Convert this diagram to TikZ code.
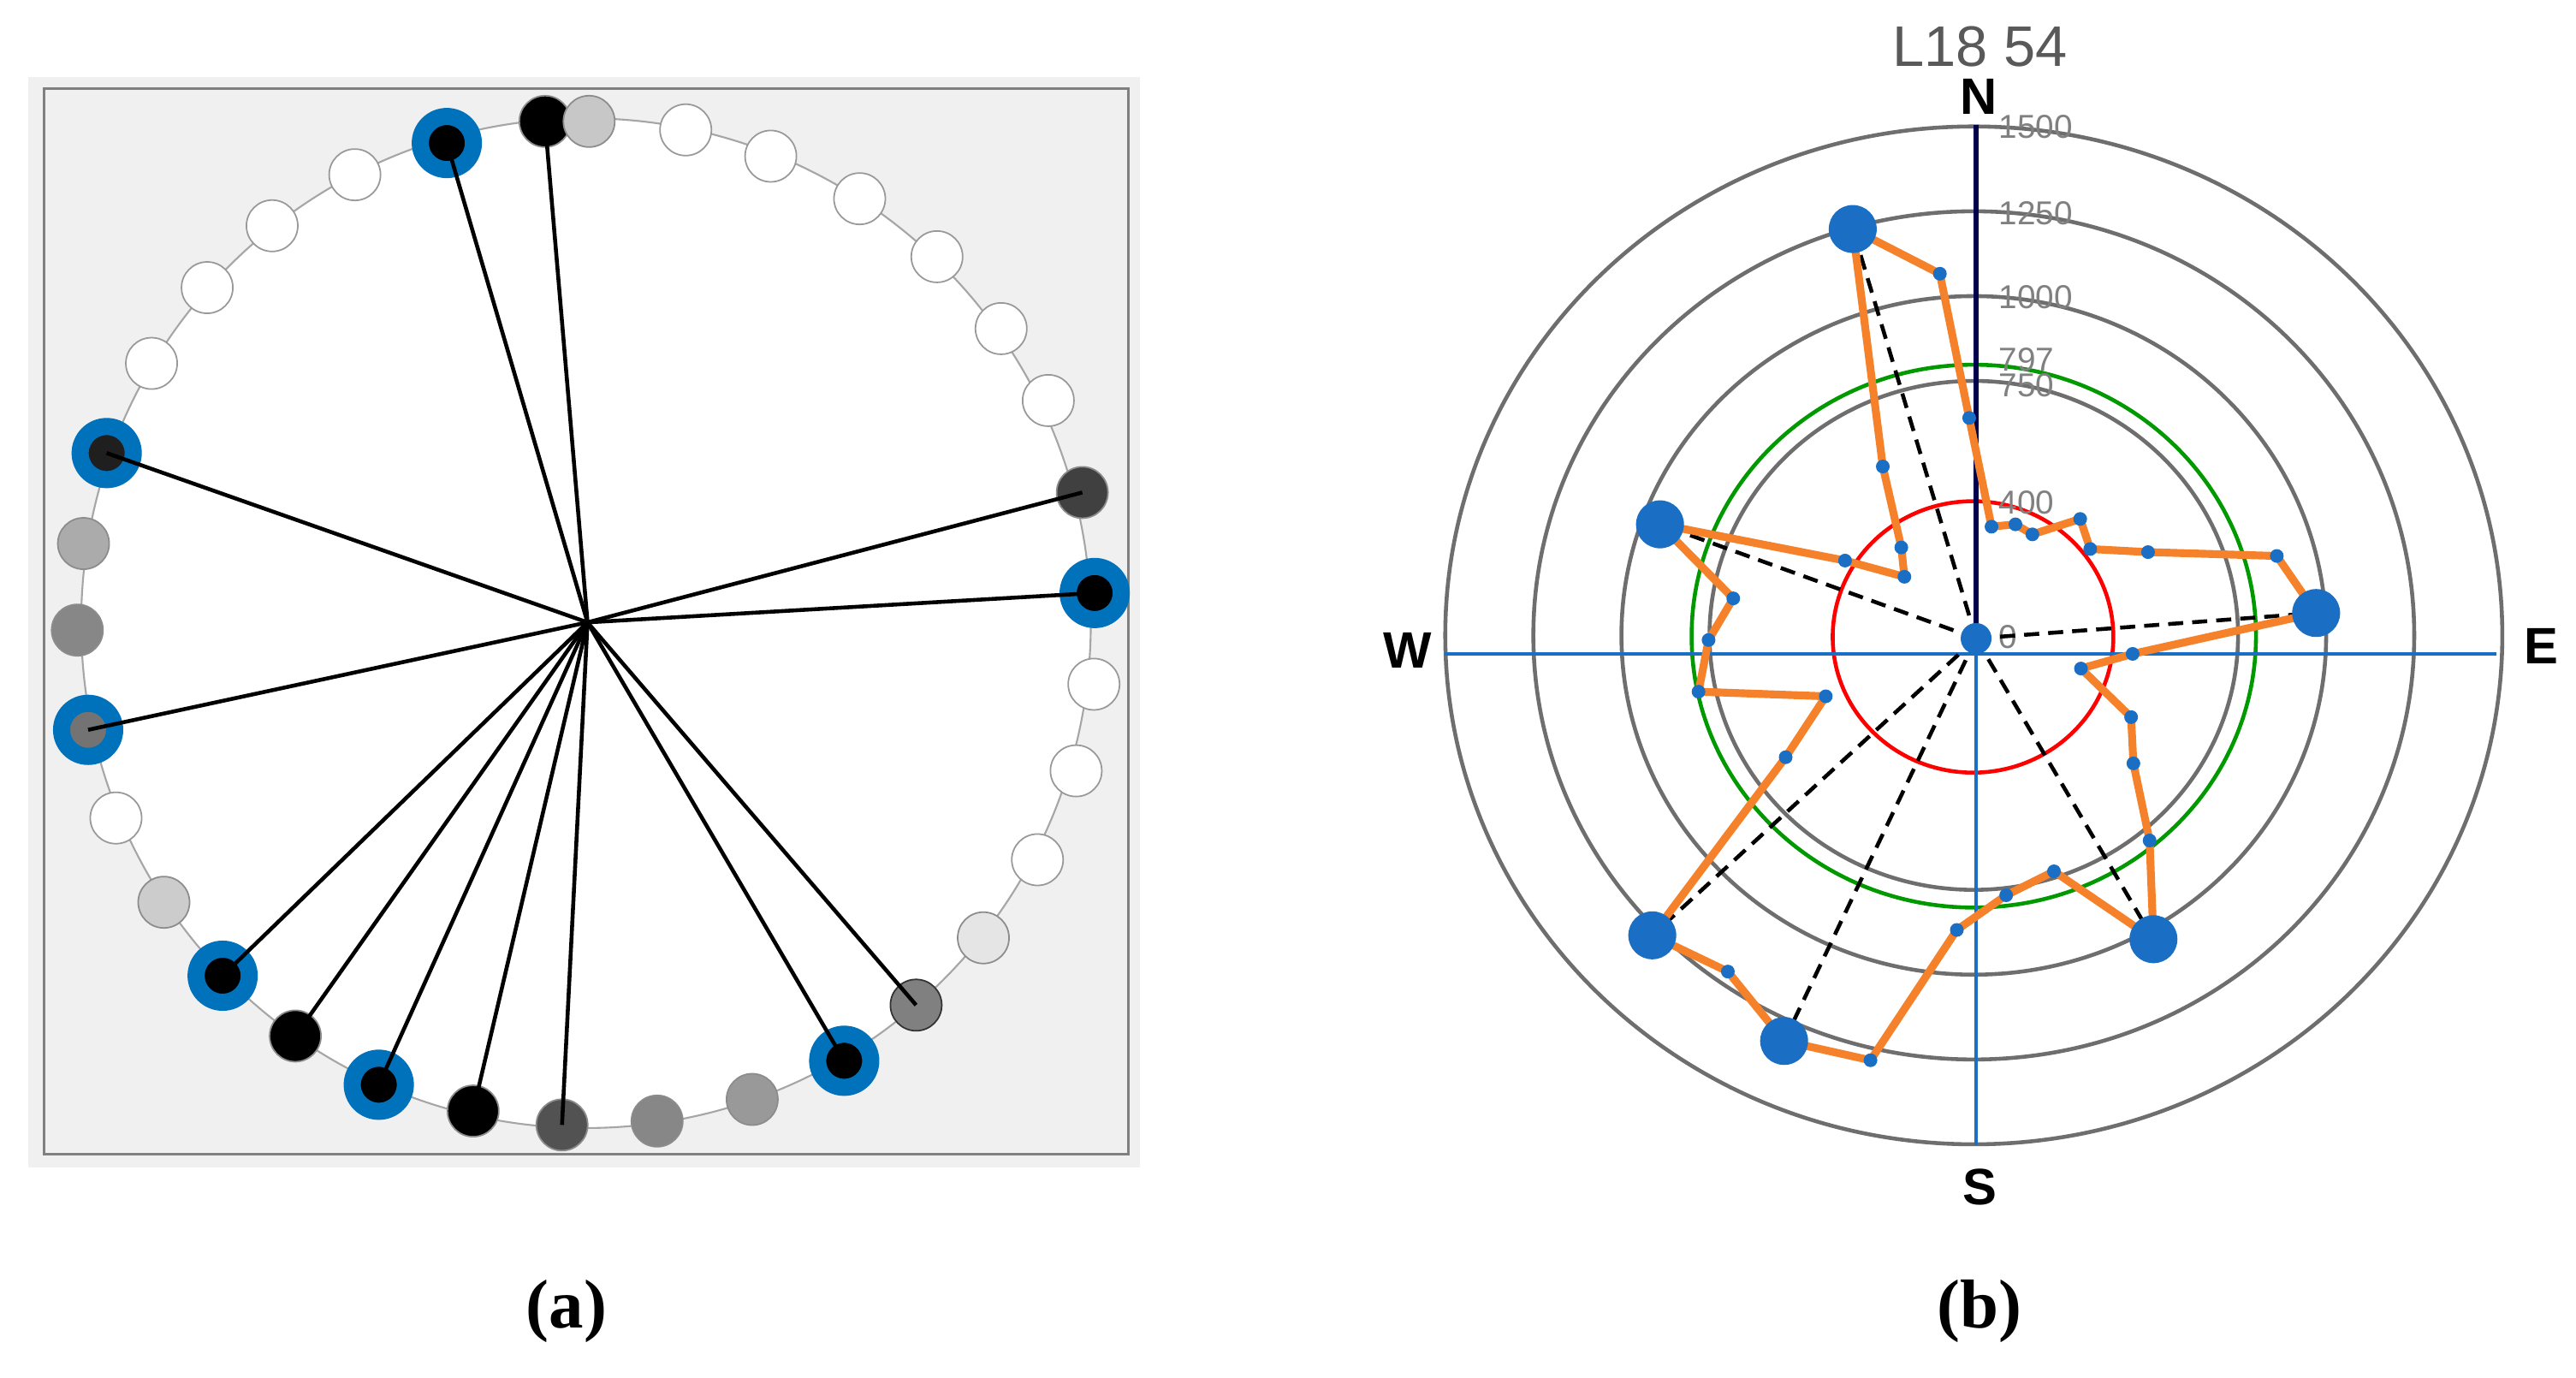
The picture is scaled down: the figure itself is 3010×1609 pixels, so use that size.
\documentclass[tikz,border=0pt]{standalone}
\usepackage{fontspec}
\setmainfont{Liberation Serif}
\newfontfamily\chartfont{Liberation Sans}
\begin{document}
\begin{tikzpicture}[x=0.01cm,y=-0.01cm,
  nd/.style={circle,inner sep=0pt,minimum size=0.6cm,draw=#1},
  wn/.style={nd=gray!80,fill=white,line width=0.5pt},
  gn/.style={nd=gray!90,fill=#1,line width=0.5pt},
  bn/.style={circle,inner sep=0pt,minimum size=0.62cm,fill=black,draw={rgb,255:red,0;green,114;blue,188},line width=0.2cm},
  spoke/.style={line width=1.3pt,black},
  ring/.style={draw={rgb,255:red,110;green,110;blue,110},line width=1.3pt},
  sdot/.style={circle,inner sep=0pt,minimum size=0.16cm,fill=cblue},
  bdot/.style={circle,inner sep=0pt,minimum size=0.56cm,fill=cblue},
  tick/.style={font=\chartfont\fontsize{11}{11}\selectfont,text=gray,anchor=west,inner sep=1pt},
  dir/.style={font=\chartfont\bfseries\fontsize{17}{17}\selectfont}]
\definecolor{cblue}{RGB}{26,111,196}
\definecolor{corange}{RGB}{245,130,42}
\useasboundingbox (0,0) rectangle (3010,1609);
\fill[white] (0,0) rectangle (3010,1609);
% ---------------- panel (a)
\begin{scope}[scale=0.9033]
\fill[black!6] (36,100) rectangle (1475,1510);
\draw[gray,line width=0.8pt] (57,115) rectangle (1460,1493);
\fill[white] (758,806) circle[radius=653];
\draw[gray!70,line width=0.6pt] (758,806) circle[radius=653];
\coordinate (c) at (760,805);
\node[gn=black] (a1) at (705,157) {};
\node[gn=black!22] (a2) at (762,157) {};
\node[wn] (a3) at (887,168) {};
\node[wn] (a4) at (997,202) {};
\node[wn] (a5) at (1112,257) {};
\node[wn] (a6) at (1212,332) {};
\node[wn] (a7) at (1295,425) {};
\node[wn] (a8) at (1356,518) {};
\node[gn=black!75] (a9) at (1400,637) {};
\node[bn] (a10) at (1416,767) {};
\node[wn] (a11) at (1415,885) {};
\node[wn] (a12) at (1392,997) {};
\node[wn] (a13) at (1342,1112) {};
\node[gn=black!10] (a14) at (1272,1213) {};
\node[gn=black!50,draw=black!80] (a15) at (1185,1300) {};
\node[bn] (a16) at (1092,1372) {};
\node[gn=black!40] (a17) at (973,1422) {};
\node[gn=black!47] (a18) at (850,1450) {};
\node[gn=black!68] (a19) at (727,1455) {};
\node[gn=black] (a20) at (612,1437) {};
\node[bn] (a21) at (490,1403) {};
\node[gn=black] (a22) at (382,1340) {};
\node[bn] (a23) at (288,1262) {};
\node[gn=black!20] (a24) at (212,1167) {};
\node[wn] (a25) at (150,1058) {};
\node[bn,fill=black!55] (a26) at (114,944) {};
\node[gn=black!47] (a27) at (100,815) {};
\node[gn=black!33] (a28) at (108,703) {};
\node[bn,fill=black!88] (a29) at (138,586) {};
\node[wn] (a30) at (196,470) {};
\node[wn] (a31) at (268,372) {};
\node[wn] (a32) at (352,292) {};
\node[wn] (a33) at (459,226) {};
\node[bn] (a34) at (578,185) {};
\foreach \n in {1,34,29,9,10,26,23,22,21,20,19,16,15}
  \draw[spoke] (c) -- (a\n.center);
\end{scope}
\node[font=\bfseries\fontsize{23}{26}\selectfont] (la) at (662,1532) {(a)};
% ---------------- panel (b)
\begin{scope}[shift={(1600,0)},scale=0.9009]
\coordinate (o) at (784,824);
\foreach \v in {750,1000,1250,1500}
  \draw[ring] (o) ellipse[x radius=0.457*\v, y radius=0.44*\v];
\draw[red,line width=1.3pt] (783,826) ellipse[x radius=182, y radius=176];
\draw[green!60!black,line width=1.3pt] (784,825) ellipse[x radius=366, y radius=352];
\coordinate (wl) at (98,848); \coordinate (er) at (1462,848);
\coordinate (nt) at (787,162); \coordinate (sb) at (787,1485); \coordinate (ct) at (787,828);
\draw[cblue,line width=1.4pt] (wl) -- (er);
\draw[cblue,line width=0.9pt] (ct) -- (sb);
\draw[black!70!blue,line width=1.6pt] (nt) -- (ct);
\node[tick] (t1500) at (812,165) {1500};
\node[tick] (t1250) at (812,277) {1250};
\node[tick] (t1000) at (812,385) {1000};
\node[tick] (t797) at (812,466) {797};
\node[tick] (t750) at (812,500) {750};
\node[tick] (t400) at (812,652) {400};
\node[tick] (t0) at (812,826) {0};
\node[dir] (N) at (790,125) {N};
\node[dir] (W) at (50,843) {W};
\node[dir] (E) at (1520,838) {E};
\node[dir] (S) at (792,1540) {S};
\node[font=\chartfont\fontsize{19}{19}\selectfont,text=black!65] (tt) at (792,60) {L18 54};
\foreach \i/\x/\y in {1/627/297,2/740/355,3/778/542,4/807/683,5/838/680,6/860/693,7/922/673,8/935/712,9/1010/716,10/1177/721,11/1228/795,12/990/848,13/923/867,14/988/930,15/991/990,16/1012/1090,17/1017/1218,18/888/1130,19/826/1161,20/762/1206,21/650/1375,22/538/1350,23/465/1260,24/367/1213,25/540/982,26/592/903,27/427/897,28/440/830,29/472/776,30/377/680,31/617/727,32/694/748,33/690/710,34/666/605}
  \coordinate (p\i) at (\x,\y);
\foreach \b in {1,30,24,22,17,11}
  \draw[black,dashed,line width=1.3pt,dash pattern=on 5pt off 3pt] (ct) -- (p\b);
\draw[corange,line width=2.6pt,line join=round]
  (p1)--(p2)--(p3)--(p4)--(p5)--(p6)--(p7)--(p8)--(p9)--(p10)--(p11)--(p12)--(p13)--(p14)--(p15)--(p16)--(p17)--(p18)--(p19)--(p20)--(p21)--(p22)--(p23)--(p24)--(p25)--(p26)--(p27)--(p28)--(p29)--(p30)--(p31)--(p32)--(p33)--(p34)--cycle;
\foreach \i in {2,3,4,5,6,7,8,9,10,12,13,14,15,16,18,19,20,21,23,25,26,27,28,29,31,32,33,34}
  \node[sdot] (d\i) at (p\i) {};
\foreach \i in {1,30,24,22,17,11}
  \node[bdot] (d\i) at (p\i) {};
\node[circle,inner sep=0pt,minimum size=0.36cm,fill=cblue] (cd) at (ct) {};
\end{scope}
\node[font=\bfseries\fontsize{23}{26}\selectfont] (lb) at (2313,1532) {(b)};
\end{tikzpicture}
\end{document}
